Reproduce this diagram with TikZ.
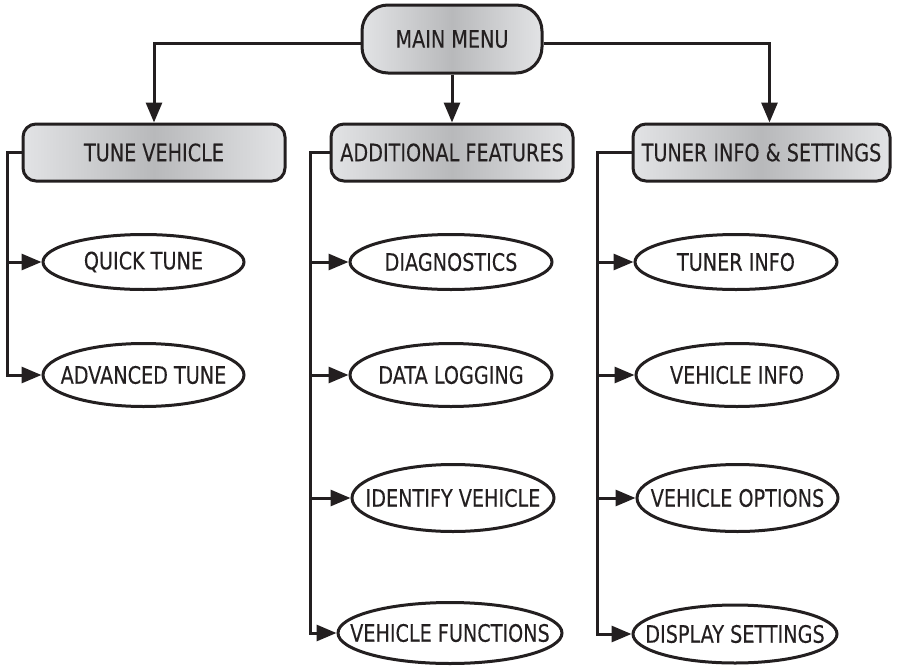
\documentclass[tikz,border=0pt]{standalone}
\usepackage{fontspec}
\setmainfont{DejaVu Sans}[FakeStretch=0.8,FakeBold=0.2]
\usetikzlibrary{arrows.meta,shapes.geometric}
\definecolor{ink}{HTML}{231F20}
\definecolor{boxedge}{HTML}{E2E3E5}
\definecolor{boxmid}{HTML}{B8B9BB}
\newcommand{\zt}[1]{\makebox[0pt]{#1}}
\begin{document}
\begin{tikzpicture}[x=1pt,y=-1pt,
  font=\fontsize{24}{28}\selectfont,
  menubox/.style={draw=ink, line width=3pt, rounded corners=13pt,
    left color=boxedge, right color=boxedge, middle color=boxmid,
    minimum height=57pt, inner sep=0pt, text=ink},
  item/.style={ellipse, draw=ink, line width=3pt, inner sep=0pt, fill=white, text=ink},
  conn/.style={draw=ink, line width=3pt},
  arr/.style={conn, -{Triangle[length=20pt,width=16pt]}}]
\useasboundingbox (0,0) rectangle (898,665);

\node[menubox, minimum width=180pt, minimum height=68pt, rounded corners=26pt] (mm) at (452,39) {\zt{MAIN MENU}};
\node[menubox, minimum width=262pt] (tv) at (154,152.5) {\zt{TUNE VEHICLE}};
\node[menubox, minimum width=242pt] (af) at (452,152.5) {\zt{ADDITIONAL FEATURES}};
\node[menubox, minimum width=257pt] (ti) at (761.5,152.5) {\zt{TUNER INFO \& SETTINGS}};

\node[item, minimum width=201pt, minimum height=55pt] (qt) at (143.5,262) {\zt{QUICK TUNE}};
\node[item, minimum width=201pt, minimum height=63pt] (adv) at (143.5,375) {\zt{ADVANCED TUNE}};
\node[item, minimum width=202pt, minimum height=55pt] (dg) at (451,262) {\zt{DIAGNOSTICS}};
\node[item, minimum width=202pt, minimum height=63pt] (dl) at (451,375) {\zt{DATA LOGGING}};
\node[item, minimum width=202pt, minimum height=67pt] (iv) at (453,498) {\zt{IDENTIFY VEHICLE}};
\node[item, minimum width=224pt, minimum height=61pt] (vf) at (450,633) {\zt{VEHICLE FUNCTIONS}};
\node[item, minimum width=202pt, minimum height=55pt] (tin) at (736,262) {\zt{TUNER INFO}};
\node[item, minimum width=202pt, minimum height=63pt] (vi) at (737,375) {\zt{VEHICLE INFO}};
\node[item, minimum width=201pt, minimum height=67pt] (vo) at (737.5,498) {\zt{VEHICLE OPTIONS}};
\node[item, minimum width=204pt, minimum height=58pt] (ds) at (735,634) {\zt{DISPLAY SETTINGS}};

% main menu connectors
\draw[arr] ([yshift=-4pt]mm.west) -| (tv.north);
\draw[arr] (mm.south) -- (af.north);
\draw[arr] ([yshift=-4pt]mm.east) -| ([xshift=8pt]ti.north);

% tune vehicle
\coordinate (tvx) at ([xshift=-14pt]tv.west);
\draw[arr] (tv.west) -- (tvx) |- (adv.west);
\draw[arr] (tvx |- qt.west) -- (qt.west);

% additional features
\coordinate (afx) at ([xshift=-19pt]af.west);
\draw[arr] (af.west) -- (afx) |- (vf.west);
\draw[arr] (afx |- dg.west) -- (dg.west);
\draw[arr] (afx |- dl.west) -- (dl.west);
\draw[arr] (afx |- iv.west) -- (iv.west);

% tuner info & settings
\coordinate (tix) at ([xshift=-34pt]ti.west);
\draw[arr] (ti.west) -- (tix) |- (ds.west);
\draw[arr] (tix |- tin.west) -- (tin.west);
\draw[arr] (tix |- vi.west) -- (vi.west);
\draw[arr] (tix |- vo.west) -- (vo.west);
\end{tikzpicture}
\end{document}
